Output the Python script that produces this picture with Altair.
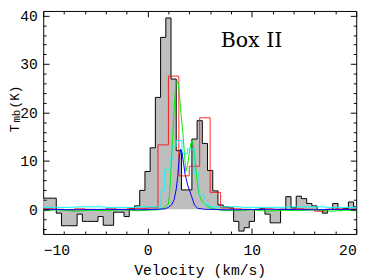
import altair as alt
import numpy as np
import pandas as pd

# ---- data ----
# observed spectrum (grey histogram), 0.5 km/s channels, left edge of first channel
grey_first_edge = -10.25
grey_chan = 0.5
grey_T = [2.3, 2.3, 2.3, -0.8, -3.4, -3.4, -3.4, -1.0, -2.5, -2.5,
          -2.5, -1.5, -3.3, -3.3, -0.6, -0.6, -1.5, 0.1, 0.7, 3.9,
          7.8, 12.7, 23.1, 35.5, 39.5, 26.9, 12.1, 4.0, 4.0, 14.5,
          18.3, 13.6, 8.0, 3.8, 0.9, 0.5, 0.3, -2.5, -4.5, -3.8,
          -2.5, 0.0, 0.1, -1.0, -2.8, -2.8, 0.0, 2.6, 0.3, 2.7,
          2.2, 1.2, 0.7, -0.1, -0.8, 0.0, 1.2, -0.1, 0.2, 1.5,
          0.5]

# red spectrum, 1 km/s channels starting at -10
red_first_edge = -10.0
red_chan = 1.0
red_T = [0.1, 0.0, -0.1, 0.1, 0.0, -0.1, 0.1, 0.0, 0.1, 0.2,
         0.3, 13.3, 27.5, 6.9, 8.9, 18.9, 3.5, 0.3, 0.1, 0.0,
         -0.1, 0.1, 0.0, -0.1, 0.1, 0.0, -0.4, 0.0, 0.1, 0.0]

# green spectrum
green_v = [-10, -8.5, -7, -5.5, -4, -2.5, -1, 0, 1.0, 1.5, 1.8, 2.0, 2.13, 2.29, 2.44,
           2.6, 2.72, 2.85, 2.97, 3.1, 3.21, 3.37, 3.53, 3.68, 3.83, 4.0, 4.14, 4.3,
           4.46, 4.6, 4.76, 4.92, 5.23, 5.69, 6.16, 7, 8.5, 10, 11.5, 13, 14.5, 16,
           17.5, 19, 20]
green_T = [-0.3, -0.1, -0.4, -0.2, -0.3, -0.1, -0.3, -0.2, -0.1, 0.2, 0.8, 1.0, 3.6,
           10.2, 16.2, 22.5, 26.0, 26.5, 25.5, 22.5, 19.6, 16.2, 11.6, 7.8, 9.0, 11.6,
           13.5, 14.2, 12.2, 8.9, 5.6, 3.2, 1.6, 0.6, 0.2, -0.2, -0.3, -0.1, -0.4, -0.2,
           -0.3, -0.1, -0.4, -0.2, -0.3]

# cyan spectrum (steps)
cyan_v = [-10, -7, -4, -1, 1.3, 1.65, 2.15, 2.45, 2.75, 3.3, 3.85, 4.45, 4.95, 5.4,
          5.9, 9, 13, 17, 20]
cyan_T = [0.4, 0.5, 0.4, 0.5, 3.9, 8.2, 10.5, 13.0, 14.2, 11.5, 12.5, 7.5, 3.0, 1.0,
          0.5, 0.4, 0.5, 0.4, 0.4]

# blue spectrum
blue_v = [-10, -7, -4, -1, 1.0, 1.7, 2.0, 2.3, 2.55, 2.75, 2.9, 3.05, 3.18, 3.3, 3.45,
          3.6, 3.85, 4.2, 4.5, 4.8, 5.5, 8, 12, 16, 20]
blue_T = [0.0, -0.1, 0.0, -0.1, 0.0, 0.1, 0.4, 0.9, 2.0, 4.2, 7.0, 11.0, 12.4, 11.8,
          9.5, 7.2, 5.0, 2.8, 0.9, 0.2, 0.0, -0.1, 0.0, -0.1, 0.0]

x_major = [-10, 0, 10, 20]
x_minor = [-8, -6, -4, -2, 2, 4, 6, 8, 12, 14, 16, 18]
y_major = [0, 10, 20, 30, 40]
y_minor = [-4, -2, 2, 4, 6, 8, 12, 14, 16, 18, 22, 24, 26, 28, 32, 34, 36, 38]

label_box = "Box II"
x_title = "Velocity (km/s)"

# ---- tables ----
def step_table(first_edge, chan, vals):
    edges = first_edge + chan * np.arange(len(vals) + 1)
    return pd.DataFrame({"v": edges, "T": list(vals) + [vals[-1]]})

grey_df = step_table(grey_first_edge, grey_chan, grey_T)
red_df = step_table(red_first_edge, red_chan, red_T)
green_df = pd.DataFrame({"v": green_v, "T": green_T})
cyan_df = pd.DataFrame({"v": cyan_v, "T": cyan_T})
blue_df = pd.DataFrame({"v": blue_v, "T": blue_T})

W, H = 320, 228
xs = alt.Scale(domain=[-10, 20], nice=False, zero=False)
ys = alt.Scale(domain=[-5.1, 40.95], nice=False, zero=False)
MONO = "Liberation Mono"


def tick_axis(orient, values, size):
    return alt.Axis(orient=orient, offset=-(H if orient in ("top", "bottom") else W),
                    values=values, tickSize=size, ticks=True, tickColor="black",
                    tickWidth=1, labels=False, domain=False, grid=False, title=None,
                    zindex=2)


main_x = alt.Axis(orient="bottom", values=x_major, ticks=False, domain=False, grid=False,
                  labelFont=MONO, labelFontSize=15, labelColor="black", labelPadding=9,
                  title=x_title, titleFont=MONO, titleFontSize=15, titleFontWeight="normal",
                  titleColor="black", titleBaseline="alphabetic", titleY=41)
main_y = alt.Axis(orient="left", values=y_major, ticks=False, domain=False, grid=False,
                  labelFont=MONO, labelFontSize=15, labelColor="black", labelPadding=6,
                  title=None)

grey_fill = alt.Chart(grey_df).mark_area(interpolate="step-after", color="#bebebe",
                                         clip=True).encode(
    x=alt.X("v:Q", scale=xs, axis=main_x),
    y=alt.Y("T:Q", scale=ys, axis=main_y),
    y2=alt.datum(0),
)

grey_line = alt.Chart(grey_df).mark_line(interpolate="step-after", color="black",
                                         strokeWidth=1, clip=True).encode(
    x=alt.X("v:Q", scale=xs, axis=tick_axis("top", x_major, 6)),
    y=alt.Y("T:Q", scale=ys, axis=tick_axis("right", y_major, 6)),
)

red = alt.Chart(red_df).mark_line(interpolate="step-after", color="#ff0000",
                                  strokeWidth=1, opacity=0.85, clip=True).encode(
    x=alt.X("v:Q", scale=xs, axis=tick_axis("bottom", x_major, 6)),
    y=alt.Y("T:Q", scale=ys, axis=tick_axis("left", y_major, 6)),
)

green = alt.Chart(green_df).mark_line(color="#00ee00", strokeWidth=1, clip=True).encode(
    x=alt.X("v:Q", scale=xs, axis=tick_axis("top", x_minor, 3)),
    y=alt.Y("T:Q", scale=ys, axis=tick_axis("right", y_minor, 3)),
)

cyan = alt.Chart(cyan_df).mark_line(interpolate="step-after", color="#00ffff",
                                    strokeWidth=1, clip=True).encode(
    x=alt.X("v:Q", scale=xs, axis=tick_axis("bottom", x_minor, 3)),
    y=alt.Y("T:Q", scale=ys, axis=tick_axis("left", y_minor, 3)),
)

blue = alt.Chart(blue_df).mark_line(color="#0000ff", strokeWidth=1, clip=True).encode(
    x=alt.X("v:Q", scale=xs, axis=None),
    y=alt.Y("T:Q", scale=ys, axis=None),
)

def label(text, size, x, y, angle=0, font=MONO):
    return alt.Chart(pd.DataFrame({"s": [text]})).mark_text(
        font=font, fontSize=size, angle=angle, align="center",
        baseline="alphabetic", color="black").encode(
        x=alt.value(x), y=alt.value(y), text="s:N")

t_T = label("T", 13, -25, 120, angle=270)
t_mb = label("mb", 11, -23.5, 107.5, angle=270)
t_K = label("(K)", 13, -25, 88, angle=270)
t_box = label(label_box, 21, 213, 37, font="DejaVu Serif")

chart = alt.layer(grey_fill, grey_line, red, green, cyan, blue, t_T, t_mb, t_K, t_box).resolve_axis(
    x="independent", y="independent"
).properties(
    width=W, height=H,
    padding={"left": 36, "top": 0, "right": 10, "bottom": 44},
    autosize=alt.AutoSizeParams(type="none"),
).configure_view(stroke="black", strokeWidth=1)

chart.save("out.html", embed_options={"renderer": "svg", "actions": False})
